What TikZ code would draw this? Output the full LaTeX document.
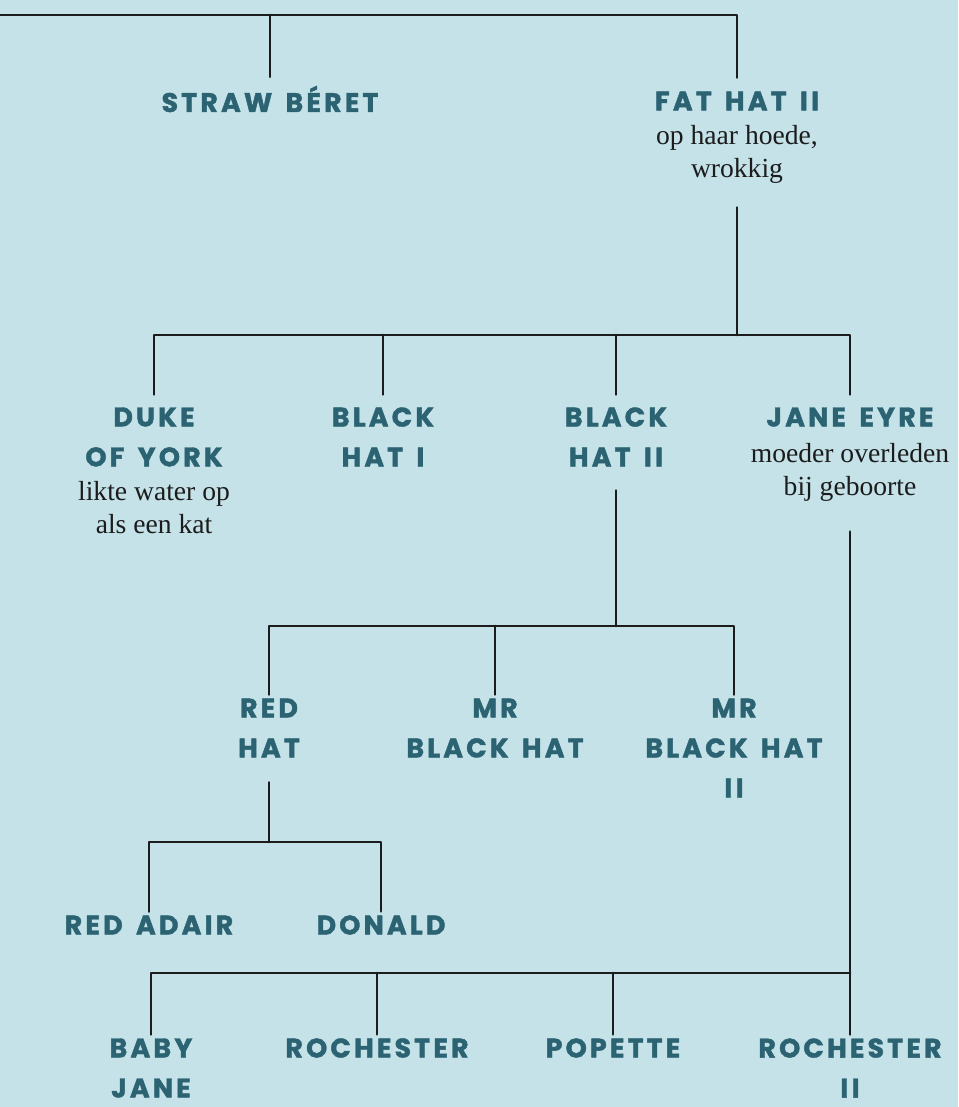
\documentclass[tikz,border=0pt]{standalone}
\usepackage{fontspec}
\usepackage{tikz}
\usetikzlibrary{positioning}
\setmainfont{Liberation Serif}
\newfontfamily\hatfont{Poppins}[LetterSpace=12, WordSpace=1.5, BoldFeatures={FakeBold=1.6}]
\definecolor{paper}{HTML}{C4E2E8}
\definecolor{hatblue}{HTML}{2B6373}
\definecolor{ink}{HTML}{1C1C1C}
\tikzset
{
    hatnode/.style = {align=center, text=hatblue, inner sep=0pt, outer sep=2pt, font=\hatfont\bfseries\fontsize{13.4}{20}\selectfont},
    notenode/.style = {align=center, text=ink, inner sep=0pt, outer sep=2pt, font=\fontsize{13.8}{16.5}\selectfont},
    branch/.style = {draw=ink, line width=1.4pt, line cap=round, line join=round},
    lift/.style = {shorten <=#1, shorten >=#1}
}

\begin{document}
\begin{tikzpicture}
	[x=0.5pt, y=-0.5pt]
	\useasboundingbox (0,0) rectangle (958,1107);
	\fill[paper] (0,0) rectangle (958,1107);

	\node[hatnode] (straw) at (270,99) {STRAW BÉRET};
	\node[hatnode] (fathat) at (737,101) {FAT HAT II};
	\node[notenode, below=3.5pt of fathat] (fathat-note) {op haar hoede,\\wrokkig};

	\node[hatnode] (duke) at (154,437) {DUKE\\OF YORK};
	\node[notenode, below=3.5pt of duke] (duke-note) {likte water op\\als een kat};
	\node[hatnode] (blackI) at (383,437) {BLACK\\HAT I};
	\node[hatnode] (blackII) at (616,437) {BLACK\\HAT II};
	\node[hatnode] (jane) at (850,417) {JANE EYRE};
	\node[notenode, below=4.5pt of jane] (jane-note) {moeder overleden\\bij geboorte};

	\node[hatnode] (redhat) at (269,728) {RED\\HAT};
	\node[hatnode] (mrblack) at (495,728) {MR\\BLACK HAT};
	\node[hatnode] (mrblackII) at (734,748) {MR\\BLACK HAT\\II};

	\node[hatnode] (redadair) at (149,925) {RED ADAIR};
	\node[hatnode] (donald) at (381,925) {DONALD};

	\node[hatnode] (babyjane) at (151,1068) {BABY\\JANE};
	\node[hatnode] (rochester) at (377,1048) {ROCHESTER};
	\node[hatnode] (popette) at (613,1048) {POPETTE};
	\node[hatnode] (rochesterII) at (850,1068) {ROCHESTER\\II};

	\coordinate (topbar) at (0,15);
	\coordinate (j1) at (737,335);
	\coordinate (j3) at (616,626);
	\coordinate (j4) at (269,842);
	\coordinate (j5) at (850,973);

	\draw[branch, shorten >=5pt] (topbar) -| (fathat.north);
	\draw[branch, shorten <=2.5pt] (straw.north) -- (straw.north |- topbar);

	\draw[branch, shorten <=10pt] (fathat-note.south) -- (j1);
	\draw[branch, lift=4.5pt] (duke.north) |- (j1) -| (jane.north);
	\draw[branch, shorten <=4.5pt] (blackI.north) -- (blackI.north |- j1);
	\draw[branch, shorten <=4.5pt] (blackII.north) -- (blackII.north |- j1);

	\draw[branch, shorten <=10pt] (blackII.south) -- (j3);
	\draw[branch] (redhat.north) |- (j3) -| (mrblackII.north);
	\draw[branch] (mrblack.north) -- (mrblack.north |- j3);

	\draw[branch, shorten <=10.5pt] (redhat.south) -- (j4);
	\draw[branch] (redadair.north) |- (j4) -| (donald.north);

	\draw[branch, shorten <=13pt] (jane-note.south) -- (rochesterII.north);
	\draw[branch] (babyjane.north) |- (j5);
	\draw[branch] (rochester.north) -- (rochester.north |- j5);
	\draw[branch] (popette.north) -- (popette.north |- j5);
\end{tikzpicture}
\end{document}
